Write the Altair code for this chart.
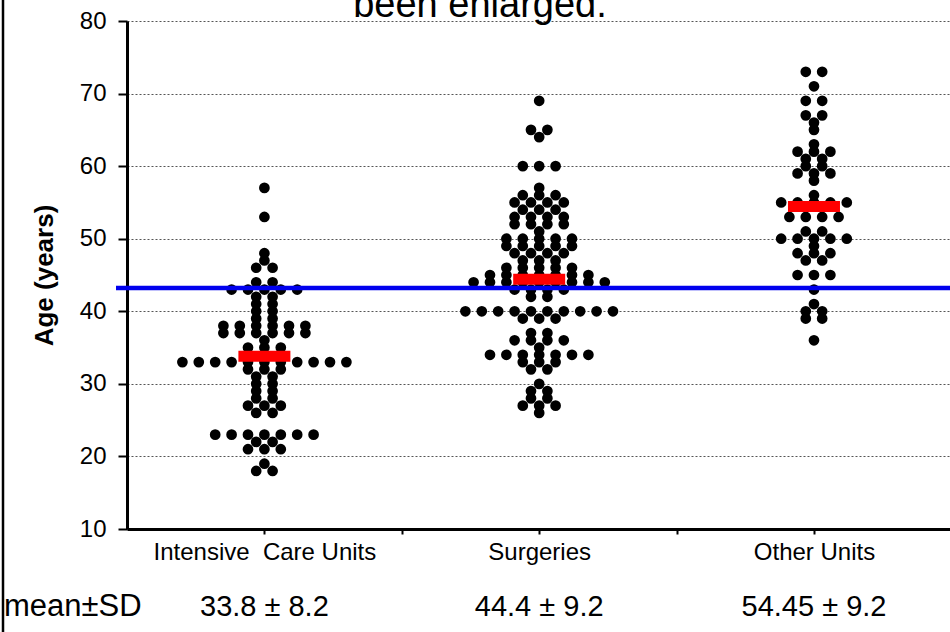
import altair as alt
import pandas as pd
from collections import Counter

# ---------------- data ----------------
groups = ["Intensive Care Units", "Surgeries", "Other Units"]
group_labels = ["Intensive\u00a0 Care Units", "Surgeries", "Other Units"]
stats_text = ["33.8 \u00b1 8.2", "44.4 \u00b1 9.2", "54.45 \u00b1 9.2"]
group_means = [33.8, 44.4, 54.45]
overall_mean = 43.2
header_text = "been enlarged."
stats_title = "mean\u00b1SD"
y_ticks = [10, 20, 30, 40, 50, 60, 70, 80]

icu_ages = [57, 53, 48, 47, 46, 46, 44, 44, 43, 43, 43, 43, 43,
            42, 42, 41, 41, 40, 40, 39, 39,
            38, 38, 38, 38, 38, 38, 37, 37, 37, 37, 37, 37, 36,
            35, 35, 35, 33, 33, 33, 33, 33, 33, 33, 33, 33, 33, 33,
            32, 32, 32, 31, 31, 30, 30, 29, 29, 28, 28, 27, 27, 27,
            26, 26, 23, 23, 23, 23, 23, 23, 23, 22, 22, 21, 21, 21,
            19, 18, 18]

surgery_ages = [69, 65, 65, 64, 60, 60, 60, 57, 56, 56, 56,
                55, 55, 55, 55, 54, 54, 54, 53, 53, 53, 53,
                52, 52, 52, 52, 51, 50, 50, 50, 50, 50,
                49, 49, 49, 49, 49, 48, 48, 48, 48, 47, 47, 47,
                46, 46, 46, 46, 46, 45, 45, 45, 45, 45, 45, 45,
                44, 44, 44, 44, 44, 44, 44, 44, 44, 43, 43, 43, 43,
                42, 42, 40, 40, 40, 40, 40, 40, 40, 40, 40, 40,
                39, 39, 39, 37, 37, 36, 36, 36, 36, 35,
                34, 34, 34, 34, 34, 34, 34, 33, 33, 33, 32, 32,
                30, 29, 29, 28, 28, 27, 27, 27, 26]

other_ages = [73, 73, 71, 69, 69, 67, 67, 66, 65, 63, 62, 62, 62,
              61, 61, 60, 60, 59, 59, 59, 58, 56,
              55, 55, 55, 55, 55, 53, 53, 53, 53, 51, 51,
              50, 50, 50, 50, 50, 49, 48, 48, 48, 47, 47,
              45, 45, 45, 43, 41, 40, 40, 39, 39, 36]

# ---------------- layout / style constants ----------------
W, H = 823, 508
XMIN, XMAX = 0, 5.99
group_pos = [1, 3, 5]
PX_PER_UNIT = W / (XMAX - XMIN)
STEP = 16.4 / PX_PER_UNIT          # horizontal spacing of tied dots
BAR_HALF = 26 / PX_PER_UNIT        # half width of red mean bar
FONT = "Liberation Sans"

rows = []
for g, pos, ages in zip(groups, group_pos, [icu_ages, surgery_ages, other_ages]):
    counts = Counter(ages)
    for age, n in counts.items():
        for i in range(n):
            rows.append({"group": g, "age": age,
                         "x": pos + (i - (n - 1) / 2) * STEP})
dots_df = pd.DataFrame(rows)

means_df = pd.DataFrame({
    "group": groups,
    "mean": group_means,
    "x1": [p - BAR_HALF for p in group_pos],
    "x2": [p + BAR_HALF for p in group_pos],
})
stats_df = pd.DataFrame({"pos": group_pos, "txt": stats_text})

label_expr = ("datum.value == 1 ? '" + group_labels[0] + "' : datum.value == 3 ? '"
              + group_labels[1] + "' : datum.value == 5 ? '" + group_labels[2] + "' : ''")

x_scale = alt.Scale(domain=[XMIN, XMAX], nice=False, zero=False)
y_scale = alt.Scale(domain=[10, 80], nice=False, zero=False)

x_axis = alt.Axis(values=[1, 2, 3, 4, 5, 6], labelExpr=label_expr, grid=False,
                  domainColor="black", domainWidth=3, tickColor="black",
                  tickWidth=2, tickSize=5, labelFontSize=24, labelFont=FONT,
                  labelColor="black", labelPadding=6, labelOverlap=False,
                  labelFlush=False, labelLimit=0, title=None)
y_axis = alt.Axis(values=y_ticks, grid=True, gridDash=[2, 2], gridColor="#555555",
                  gridWidth=1, domainColor="black", domainWidth=3,
                  tickColor="black", tickWidth=2, tickSize=9,
                  labelFontSize=24, labelFont=FONT, labelColor="black",
                  labelPadding=12, title="Age (years)", titleFont=FONT,
                  titleFontSize=26, titleFontWeight="bold", titleColor="black",
                  titlePadding=22)

dots = alt.Chart(dots_df).mark_circle(size=115, color="black", opacity=1).encode(
    x=alt.X("x:Q", scale=x_scale, axis=x_axis),
    y=alt.Y("age:Q", scale=y_scale, axis=y_axis),
)

blue = alt.Chart(pd.DataFrame({"m": [overall_mean]})).mark_rule(
    color="#0000ee", strokeWidth=4.5).encode(
    y=alt.Y("m:Q", scale=y_scale, axis=y_axis),
    x=alt.value(-11), x2=alt.value(W),
)

bars = alt.Chart(means_df).mark_rule(color="#ff0000", strokeWidth=11,
                                     strokeCap="butt").encode(
    x=alt.X("x1:Q", scale=x_scale, axis=x_axis),
    x2="x2:Q",
    y=alt.Y("mean:Q", scale=y_scale, axis=y_axis),
)

stats = alt.Chart(stats_df).mark_text(fontSize=29, font=FONT, color="black",
                                      align="center", baseline="alphabetic").encode(
    x=alt.X("pos:Q", scale=x_scale, axis=x_axis),
    y=alt.value(595),
    text="txt:N",
)

stats_head = alt.Chart(pd.DataFrame({"t": [stats_title]})).mark_text(
    fontSize=31, font=FONT, color="black", align="left",
    baseline="alphabetic").encode(
    x=alt.value(-123), y=alt.value(595), text="t:N")

header = alt.Chart(pd.DataFrame({"t": [header_text]})).mark_text(
    fontSize=38, font=FONT, color="black", align="center",
    baseline="alphabetic").encode(
    x=alt.value(353), y=alt.value(-4), text="t:N")

frame = alt.Chart(pd.DataFrame({"a": [0]})).mark_rule(
    color="black", strokeWidth=2.5).encode(
    x=alt.value(-124), y=alt.value(-21), y2=alt.value(H + 103))

chart = alt.layer(dots, blue, bars, stats, stats_head, header, frame).properties(
    width=W, height=H,
    autosize=alt.AutoSizeParams(type="none"),
    padding={"left": 127, "top": 21, "right": 0, "bottom": 103},
    background="white",
).configure_view(stroke=None)

chart.save("out.html", embed_options={"renderer": "svg", "actions": False})
